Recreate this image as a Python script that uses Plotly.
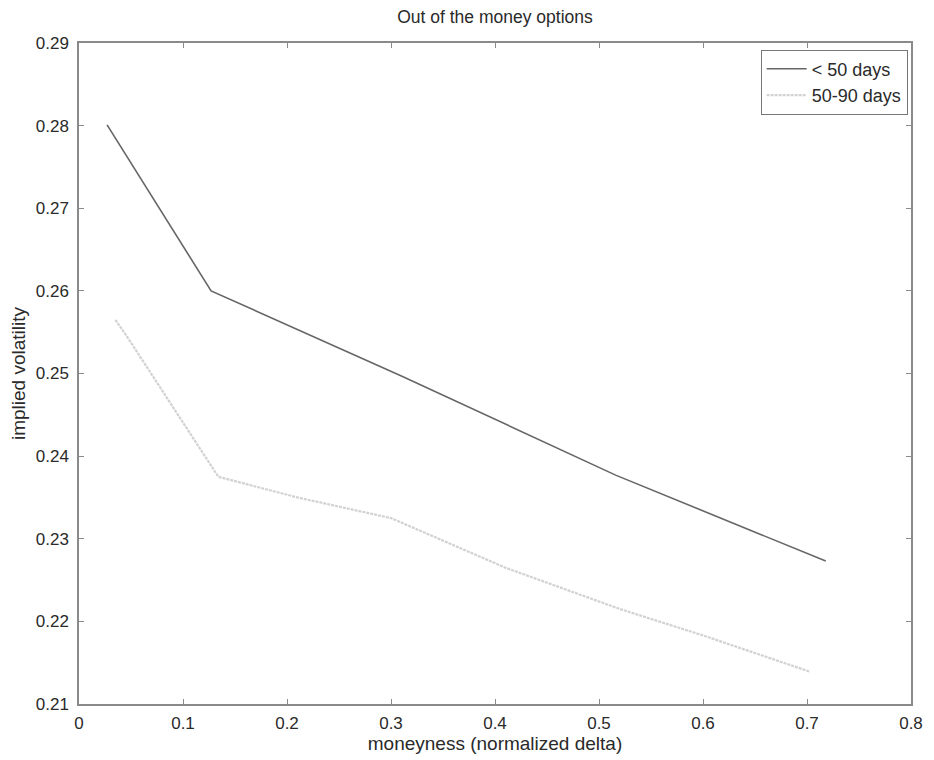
import plotly.graph_objects as go

# Data
short_x = [0.027, 0.127, 0.31, 0.516, 0.718]
short_y = [0.2801, 0.2600, 0.2497, 0.2377, 0.2273]

mid_x = [0.035, 0.046, 0.134, 0.21, 0.30, 0.41, 0.52, 0.60, 0.703]
mid_y = [0.2565, 0.2545, 0.2375, 0.2350, 0.2325, 0.2265, 0.2215, 0.2183, 0.2139]

x_ticks = [0, 0.1, 0.2, 0.3, 0.4, 0.5, 0.6, 0.7, 0.8]
x_labels = ["0", "0.1", "0.2", "0.3", "0.4", "0.5", "0.6", "0.7", "0.8"]
y_ticks = [0.21, 0.22, 0.23, 0.24, 0.25, 0.26, 0.27, 0.28, 0.29]
y_labels = ["0.21", "0.22", "0.23", "0.24", "0.25", "0.26", "0.27", "0.28", "0.29"]

FONT = "Liberation Sans, Arial"
TXT = "#2a2a2a"

fig = go.Figure()
fig.add_trace(go.Scatter(x=short_x, y=short_y, mode="lines", name="< 50 days",
                         line=dict(color="#666666", width=1.6)))
fig.add_trace(go.Scatter(x=mid_x, y=mid_y, mode="lines", name="50-90 days",
                         line=dict(color="#d2d2d2", width=2.2, dash="3px,1px")))

axis_common = dict(showline=True, linecolor="#8a8a8a", linewidth=1.5, mirror="ticks",
                   ticks="inside", ticklen=5, tickcolor="#8a8a8a", showgrid=False,
                   zeroline=False, automargin=False,
                   tickfont=dict(family=FONT, size=17, color=TXT))

fig.update_xaxes(range=[0, 0.8], tickvals=x_ticks, ticktext=x_labels, ticklabelstandoff=3,
                 title=dict(text="moneyness (normalized delta)", standoff=4,
                            font=dict(family=FONT, size=19, color=TXT)),
                 **axis_common)
fig.update_yaxes(range=[0.21, 0.29], tickvals=y_ticks, ticktext=y_labels, ticklabelstandoff=5,
                 title=dict(text="implied volatility", standoff=5,
                            font=dict(family=FONT, size=19, color=TXT)),
                 **axis_common)

fig.update_layout(
    width=926, height=752,
    margin=dict(l=71, r=23, t=35, b=56),
    paper_bgcolor="white", plot_bgcolor="white",
    title=dict(text="Out of the money options", xref="paper", x=0.5, xanchor="center",
               yref="container", y=0.997, yanchor="top",
               font=dict(family=FONT, size=17.5, color=TXT)),
    legend=dict(x=0.996, y=0.99, xanchor="right", yanchor="top",
                bordercolor="#777777", borderwidth=1, bgcolor="white",
                font=dict(family=FONT, size=18, color=TXT),
                tracegroupgap=0, itemwidth=40),
    showlegend=True,
)

fig.write_html("out.html")
